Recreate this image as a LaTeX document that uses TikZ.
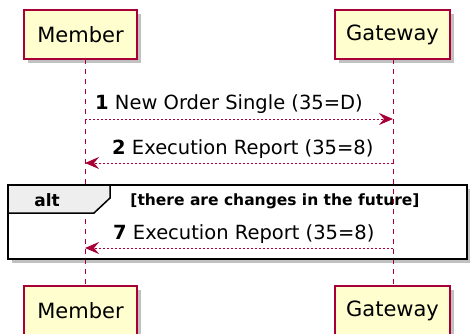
\documentclass[tikz,border=0pt]{standalone}
\usepackage{fontspec}
\setmainfont{DejaVu Sans}
\usetikzlibrary{arrows.meta,shadows}
\definecolor{pumlred}{HTML}{A80036}
\definecolor{pumlfill}{HTML}{FEFECE}
\definecolor{tabfill}{HTML}{EEEEEE}
\tikzset{
  participant/.style={draw=pumlred, line width=1.5pt, fill=pumlfill, minimum height=49pt, inner sep=0pt, font=\fontsize{21}{24}\selectfont,
    drop shadow={shadow xshift=4pt, shadow yshift=-4pt, fill=black!30, opacity=0.8}},
  lifeline/.style={pumlred, line width=1pt, dash pattern=on 5pt off 5pt},
  msg/.style={pumlred, line width=1pt, dash pattern=on 2pt off 2pt, -{Stealth[length=14pt,width=12pt,inset=5pt,line width=1pt]}},
  msglabel/.style={font=\fontsize{19.5}{22}\selectfont, inner sep=0pt, anchor=base west},
  frameline/.style={draw=black, line width=2.5pt},
  condlabel/.style={font=\fontsize{15.5}{18}\selectfont\bfseries, inner sep=0pt}
}
\begin{document}
\begin{tikzpicture}[x=1pt,y=-1pt]
\useasboundingbox (0,0) rectangle (470,333);
% participants
\node[participant, minimum width=113pt] (mtop) at (80.5,34.5) {Member};
\node[participant, minimum width=115pt] (gtop) at (392.5,34.5) {Gateway};
\node[participant, minimum width=113pt] (mbot) at (80.5,310.5) {Member};
\node[participant, minimum width=115pt] (gbot) at (392.5,310.5) {Gateway};
% lifelines
\coordinate (ml1) at (85,59);
\coordinate (ml2) at (85,286);
\coordinate (gl1) at (393,59);
\coordinate (gl2) at (393,286);
% alt frame
\coordinate (fa) at (8,185);
\coordinate (fb) at (467,259);
\fill[black!30, opacity=0.8] (12,189) rectangle (471,263);
\fill[white] (fa) rectangle (fb);
\draw[lifeline] (ml1) -- (ml2);
\draw[lifeline] (gl1) -- (gl2);
\draw[frameline, fill=tabfill, line width=1.5pt] (8,185) -- (110,185) -- (110,198) -- (94,213) -- (8,213) -- cycle;
\draw[frameline] (fa) rectangle (fb);
\node[condlabel, font=\fontsize{17}{20}\selectfont\bfseries] (alt) at (47,200) {alt};
\node[condlabel] (cond) at (275,201) {[there are changes in the future]};
% messages
\coordinate (m1a) at (85,119); \coordinate (m1b) at (393,119);
\coordinate (m2a) at (393,163); \coordinate (m2b) at (85,163);
\coordinate (m7a) at (393,248); \coordinate (m7b) at (85,248);
\draw[msg] (m1a) -- (m1b);
\draw[msg] (m2a) -- (m2b);
\draw[msg] (m7a) -- (m7b);
\node[msglabel] (l1) at (95,109) {\textbf{1} New Order Single (35=D)};
\node[msglabel] (l2) at (112,154) {\textbf{2} Execution Report (35=8)};
\node[msglabel] (l7) at (113,239) {\textbf{7} Execution Report (35=8)};
\end{tikzpicture}
\end{document}
